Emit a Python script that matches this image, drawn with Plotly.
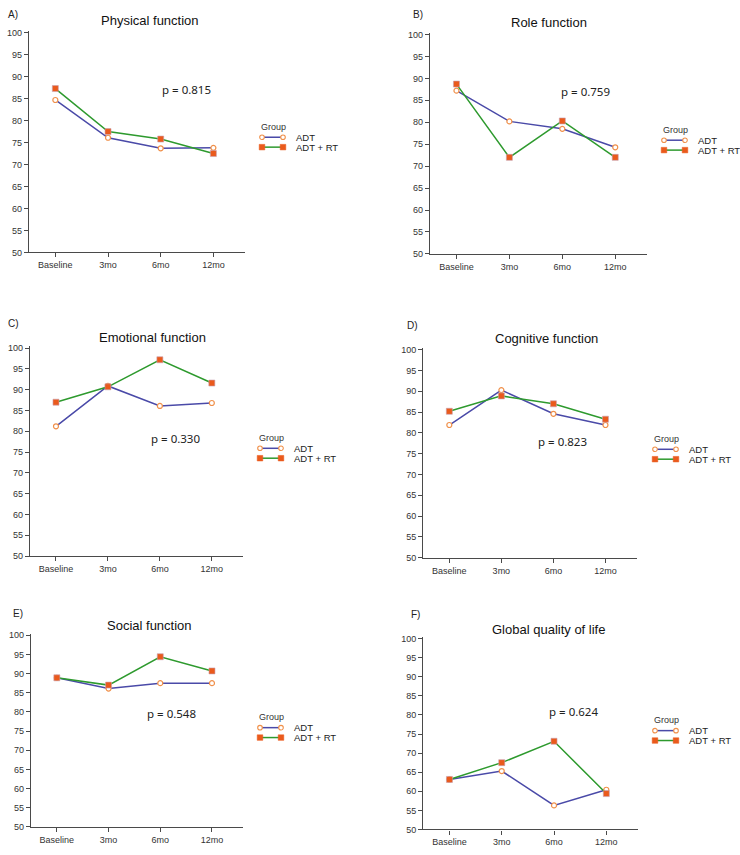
import plotly.graph_objects as go

# ---------------- data ----------------
categories = ["Baseline", "3mo", "6mo", "12mo"]
groups = ["ADT", "ADT + RT"]
legend_title = "Group"

panel_titles = ["Physical function", "Role function", "Emotional function",
                "Cognitive function", "Social function", "Global quality of life"]
panel_letters = ["A)", "B)", "C)", "D)", "E)", "F)"]
p_values = ["p = 0.815", "p = 0.759", "p = 0.330", "p = 0.823", "p = 0.548", "p = 0.624"]

physical_adt = [84.7, 76.1, 73.7, 73.8]
physical_rt = [87.3, 77.5, 75.8, 72.5]
role_adt = [87.2, 80.2, 78.5, 74.3]
role_rt = [88.7, 72.0, 80.3, 72.0]
emotional_adt = [81.2, 90.9, 86.1, 86.8]
emotional_rt = [87.0, 90.7, 97.2, 91.6]
cognitive_adt = [81.9, 90.3, 84.6, 81.9]
cognitive_rt = [85.2, 88.9, 87.0, 83.3]
social_adt = [88.9, 86.1, 87.5, 87.5]
social_rt = [88.9, 87.0, 94.4, 90.7]
global_adt = [63.1, 65.3, 56.3, 60.4]
global_rt = [63.1, 67.5, 73.1, 59.4]

y_ticks = [50, 55, 60, 65, 70, 75, 80, 85, 90, 95, 100]

series_adt = [physical_adt, role_adt, emotional_adt, cognitive_adt, social_adt, global_adt]
series_rt = [physical_rt, role_rt, emotional_rt, cognitive_rt, social_rt, global_rt]

# ---------------- layout geometry (pixels) ----------------
W, H = 740, 855
# plot areas: (x_left, x_right, y_top(100), y_bottom(50))
areas = [
    (29, 245, 28.3, 251.7),
    (430, 647, 30, 253.3),
    (30, 243, 346.7, 558.3),
    (423.3, 636.7, 348.3, 560),
    (31, 243, 636.7, 831.7),
    (423.3, 637.7, 640, 834.3),
]
letter_pos = [(13, 12), (418, 12), (13, 324), (412, 326), (18, 616), (415, 617)]
title_pos = [(150, 18), (549, 20), (152, 338), (546, 339), (149, 628), (548, 632)]
p_pos = [(187, 87), (585, 89), (175.5, 440), (562.5, 443), (171.5, 717), (573.5, 715)]
# legend "Group" title: left x, centre y
legend_pos = [(259, 125), (661, 128), (257, 439), (652, 440), (257, 721), (652, 724)]


def px(x):
    return x / W


def py(y):
    return 1 - y / H


ADT_LINE = "#4a4aa8"
ADT_MARK = "#f0904a"
RT_LINE = "#2e9a2e"
RT_MARK = "#ea5a1c"
AXIS_COL = "#4a4a4a"
FONT = "Liberation Sans, Arial, sans-serif"

fig = go.Figure()
annotations = []
shapes = []
layout_axes = {}

for i in range(6):
    n = i + 1
    xa = "x" if n == 1 else f"x{n}"
    ya = "y" if n == 1 else f"y{n}"
    fig.add_trace(go.Scatter(
        x=categories, y=series_adt[i], name=groups[0], mode="lines+markers",
        xaxis=xa, yaxis=ya, showlegend=False,
        line=dict(color=ADT_LINE, width=1.5),
        marker=dict(symbol="circle", size=5, color="white",
                    line=dict(color=ADT_MARK, width=1.2)),
    ))
    fig.add_trace(go.Scatter(
        x=categories, y=series_rt[i], name=groups[1], mode="lines+markers",
        xaxis=xa, yaxis=ya, showlegend=False,
        line=dict(color=RT_LINE, width=1.5),
        marker=dict(symbol="square", size=6, color=RT_MARK,
                    line=dict(color="#c8a0b0", width=0.6)),
    ))
    xl, xr, yt, yb = areas[i]
    xkey = "xaxis" if n == 1 else f"xaxis{n}"
    ykey = "yaxis" if n == 1 else f"yaxis{n}"
    layout_axes[xkey] = dict(
        domain=[px(xl), px(xr)], anchor=ya, type="category",
        categoryorder="array", categoryarray=categories,
        range=[-0.5, 3.6], showgrid=False, zeroline=False,
        showline=True, linecolor=AXIS_COL, linewidth=1.3,
        ticks="outside", ticklen=4, tickwidth=1.2, tickcolor=AXIS_COL,
        tickfont=dict(family=FONT, size=9, color="#333333"),
        fixedrange=True,
    )
    layout_axes[ykey] = dict(
        domain=[py(yb), py(yt)], anchor=xa, range=[50, 100.4],
        tickvals=y_ticks, showgrid=False, zeroline=False,
        showline=True, linecolor=AXIS_COL, linewidth=1.3,
        ticks="outside", ticklen=4, tickwidth=1.2, tickcolor=AXIS_COL,
        tickfont=dict(family=FONT, size=9, color="#333333"),
        fixedrange=True,
    )

    # panel letter, title, p-value
    annotations.append(dict(text=panel_letters[i], x=px(letter_pos[i][0]), y=py(letter_pos[i][1]),
                            xref="paper", yref="paper", showarrow=False,
                            xanchor="center", yanchor="middle",
                            font=dict(family=FONT, size=10, color="#222222")))
    annotations.append(dict(text=panel_titles[i], x=px(title_pos[i][0]), y=py(title_pos[i][1]),
                            xref="paper", yref="paper", showarrow=False,
                            xanchor="center", yanchor="middle",
                            font=dict(family=FONT, size=13, color="#111111")))
    annotations.append(dict(text=p_values[i], x=px(p_pos[i][0]), y=py(p_pos[i][1]),
                            xref="paper", yref="paper", showarrow=False,
                            xanchor="center", yanchor="middle",
                            font=dict(family="Noto Sans, sans-serif", size=11.5, color="#222222")))

    # legend (drawn manually: marker - line - marker, like the reference)
    gx, gy = legend_pos[i]
    annotations.append(dict(text=legend_title, x=px(gx), y=py(gy), xref="paper", yref="paper",
                            showarrow=False, xanchor="left", yanchor="middle",
                            font=dict(family=FONT, size=9, color="#333333")))
    for k, (lab, lc, mc, sym) in enumerate([(groups[0], ADT_LINE, ADT_MARK, "circle"),
                                            (groups[1], RT_LINE, RT_MARK, "rect")]):
        ry = gy + 10.5 + 10 * k
        x0, x1 = gx + 3, gx + 24
        shapes.append(dict(type="line", xref="paper", yref="paper",
                           x0=px(x0), x1=px(x1), y0=py(ry), y1=py(ry),
                           line=dict(color=lc, width=1.5)))
        for cx in (x0, x1):
            if sym == "circle":
                shapes.append(dict(type="circle", xref="paper", yref="paper",
                                   x0=px(cx - 2.3), x1=px(cx + 2.3), y0=py(ry + 2.3), y1=py(ry - 2.3),
                                   fillcolor="white", line=dict(color=mc, width=1.1)))
            else:
                shapes.append(dict(type="rect", xref="paper", yref="paper",
                                   x0=px(cx - 2.8), x1=px(cx + 2.8), y0=py(ry + 2.8), y1=py(ry - 2.8),
                                   fillcolor=mc, line=dict(color=mc, width=0.5)))
        annotations.append(dict(text=lab, x=px(gx + 35), y=py(ry), xref="paper", yref="paper",
                                showarrow=False, xanchor="left", yanchor="middle",
                                font=dict(family=FONT, size=9.5, color="#222222")))

fig.update_layout(
    width=W, height=H, margin=dict(l=0, r=0, t=0, b=0),
    paper_bgcolor="white", plot_bgcolor="white",
    annotations=annotations, shapes=shapes, showlegend=False,
    **layout_axes,
)

fig.write_html("out.html", config={"displayModeBar": False},
               post_script="document.body.style.margin='0';document.body.style.padding='0';")
